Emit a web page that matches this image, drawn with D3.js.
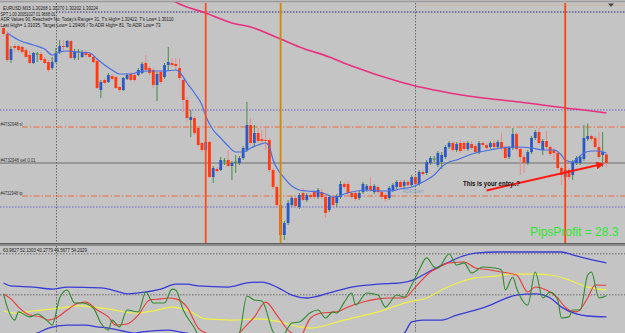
<!DOCTYPE html>
<html>
<head>
<meta charset="utf-8">
<script src="https://cdn.jsdelivr.net/npm/d3@7"></script>
<style>
body { margin: 0; background: #c4c4c4; }
svg { display: block; }
text { font-family: "Liberation Sans", Arial, sans-serif; }
</style>
</head>
<body>
<div class="chart"></div>
<script>
// EURUSD M15 candles, one entry per bar (bar 0 = left edge)
const opens = [1.30900,1.30870,1.30740,1.30810,1.30810,1.30805,1.30790,1.30765,1.30725,1.30770,
1.30770,1.30745,1.30730,1.30700,1.30730,1.30780,1.30810,1.30805,1.30835,1.30750,
1.30780,1.30755,1.30780,1.30770,1.30755,1.30735,1.30590,1.30640,1.30630,1.30660,
1.30655,1.30605,1.30590,1.30645,1.30670,1.30665,1.30665,1.30675,1.30725,1.30700,
1.30690,1.30615,1.30680,1.30655,1.30715,1.30725,1.30720,1.30700,1.30640,1.30540,
1.30440,1.30450,1.30400,1.30325,1.30290,1.30330,1.30155,1.30195,1.30190,1.30235,
1.30240,1.30210,1.30230,1.30225,1.30250,1.30290,1.30415,1.30325,1.30375,1.30345,
1.30340,1.30340,1.30190,1.30105,1.30015,1.29865,1.29925,1.30015,1.30050,1.30005,
1.30075,1.30040,1.30065,1.30080,1.30055,1.30080,1.30055,1.29990,1.30055,1.30025,
1.30055,1.30120,1.30120,1.30075,1.30075,1.30050,1.30080,1.30090,1.30110,1.30080,
1.30105,1.30080,1.30065,1.30050,1.30090,1.30105,1.30130,1.30110,1.30130,1.30115,
1.30155,1.30120,1.30180,1.30175,1.30225,1.30245,1.30215,1.30230,1.30255,1.30305,
1.30325,1.30290,1.30325,1.30325,1.30295,1.30320,1.30310,1.30280,1.30325,1.30315,
1.30305,1.30325,1.30305,1.30330,1.30300,1.30255,1.30300,1.30370,1.30295,1.30255,
1.30225,1.30280,1.30350,1.30380,1.30290,1.30335,1.30305,1.30290,1.30275,1.30200,
1.30155,1.30190,1.30165,1.30225,1.30225,1.30245,1.30345,1.30360,1.30350,1.30305,
1.30265,1.30268];
const highs = [1.30915,1.30885,1.30810,1.30820,1.30815,1.30810,1.30800,1.30785,1.30780,1.30780,
1.30780,1.30755,1.30740,1.30755,1.30800,1.30840,1.30840,1.30840,1.30840,1.30795,
1.30795,1.30790,1.30790,1.30780,1.30760,1.30745,1.30640,1.30650,1.30675,1.30670,
1.30660,1.30610,1.30655,1.30675,1.30680,1.30670,1.30700,1.30730,1.30765,1.30710,
1.30700,1.30680,1.30690,1.30725,1.30805,1.30750,1.30750,1.30750,1.30650,1.30555,
1.30490,1.30460,1.30410,1.30330,1.30340,1.30335,1.30210,1.30205,1.30255,1.30250,
1.30290,1.30235,1.30265,1.30260,1.30310,1.30530,1.30450,1.30415,1.30400,1.30390,
1.30410,1.30350,1.30200,1.30115,1.30025,1.29935,1.30040,1.30060,1.30060,1.30075,
1.30100,1.30075,1.30075,1.30090,1.30100,1.30095,1.30065,1.30065,1.30065,1.30070,
1.30135,1.30130,1.30135,1.30085,1.30085,1.30085,1.30130,1.30120,1.30155,1.30120,
1.30115,1.30090,1.30075,1.30110,1.30125,1.30140,1.30140,1.30140,1.30140,1.30165,
1.30165,1.30190,1.30190,1.30240,1.30260,1.30260,1.30285,1.30280,1.30315,1.30335,
1.30335,1.30330,1.30340,1.30335,1.30335,1.30335,1.30320,1.30335,1.30335,1.30325,
1.30335,1.30340,1.30340,1.30375,1.30310,1.30310,1.30400,1.30380,1.30305,1.30265,
1.30290,1.30360,1.30390,1.30400,1.30345,1.30385,1.30315,1.30300,1.30285,1.30210,
1.30200,1.30200,1.30240,1.30260,1.30265,1.30415,1.30422,1.30370,1.30360,1.30380,
1.30380,1.30270];
const lows = [1.30860,1.30730,1.30725,1.30780,1.30780,1.30770,1.30750,1.30720,1.30720,1.30730,
1.30735,1.30720,1.30680,1.30690,1.30725,1.30770,1.30780,1.30800,1.30745,1.30740,
1.30740,1.30750,1.30755,1.30750,1.30725,1.30595,1.30550,1.30620,1.30625,1.30640,
1.30595,1.30580,1.30585,1.30640,1.30635,1.30630,1.30660,1.30670,1.30685,1.30665,
1.30600,1.30535,1.30620,1.30645,1.30690,1.30705,1.30690,1.30640,1.30480,1.30430,
1.30355,1.30365,1.30310,1.30280,1.30275,1.30150,1.30125,1.30175,1.30185,1.30215,
1.30205,1.30140,1.30175,1.30215,1.30240,1.30280,1.30315,1.30305,1.30325,1.30325,
1.30290,1.30180,1.30095,1.30005,1.29850,1.29840,1.29915,1.30005,1.30000,1.29995,
1.30035,1.30030,1.30045,1.30045,1.30045,1.30045,1.29950,1.29980,1.30005,1.30005,
1.30045,1.30095,1.30065,1.30045,1.30035,1.30040,1.30070,1.30080,1.30080,1.30070,
1.30070,1.30045,1.30030,1.30040,1.30080,1.30095,1.30095,1.30100,1.30105,1.30105,
1.30110,1.30110,1.30160,1.30165,1.30215,1.30230,1.30205,1.30195,1.30245,1.30295,
1.30280,1.30280,1.30275,1.30285,1.30285,1.30290,1.30270,1.30270,1.30305,1.30290,
1.30295,1.30295,1.30295,1.30290,1.30240,1.30245,1.30290,1.30285,1.30165,1.30175,
1.30215,1.30270,1.30340,1.30315,1.30265,1.30295,1.30260,1.30240,1.30190,1.30115,
1.30140,1.30140,1.30140,1.30215,1.30215,1.30235,1.30335,1.30335,1.30295,1.30245,
1.30205,1.30202];
const closes = [1.30870,1.30740,1.30795,1.30800,1.30790,1.30780,1.30755,1.30725,1.30775,1.30770,
1.30740,1.30725,1.30690,1.30730,1.30775,1.30810,1.30805,1.30835,1.30750,1.30780,
1.30780,1.30780,1.30765,1.30755,1.30730,1.30600,1.30630,1.30625,1.30665,1.30645,
1.30600,1.30590,1.30650,1.30665,1.30640,1.30640,1.30690,1.30720,1.30690,1.30675,
1.30615,1.30670,1.30630,1.30715,1.30730,1.30715,1.30710,1.30650,1.30540,1.30450,
1.30455,1.30375,1.30315,1.30290,1.30330,1.30155,1.30200,1.30185,1.30240,1.30235,
1.30210,1.30225,1.30230,1.30250,1.30300,1.30415,1.30325,1.30375,1.30335,1.30335,
1.30335,1.30190,1.30105,1.30015,1.29865,1.29925,1.30025,1.30050,1.30010,1.30065,
1.30040,1.30065,1.30055,1.30055,1.30090,1.30055,1.29975,1.30055,1.30015,1.30060,
1.30120,1.30105,1.30075,1.30055,1.30045,1.30075,1.30120,1.30110,1.30090,1.30110,
1.30080,1.30055,1.30045,1.30100,1.30115,1.30130,1.30105,1.30130,1.30115,1.30155,
1.30120,1.30180,1.30170,1.30230,1.30250,1.30245,1.30275,1.30265,1.30305,1.30325,
1.30290,1.30320,1.30285,1.30295,1.30325,1.30300,1.30280,1.30325,1.30315,1.30300,
1.30325,1.30305,1.30330,1.30300,1.30250,1.30300,1.30370,1.30295,1.30255,1.30225,
1.30280,1.30350,1.30380,1.30325,1.30335,1.30305,1.30270,1.30275,1.30200,1.30165,
1.30190,1.30155,1.30230,1.30250,1.30255,1.30350,1.30360,1.30345,1.30305,1.30255,
1.30280,1.30224];

// moving averages (bar, price)
const emaBar = [1,4,8,11,13,15,17,20,23,25,27,29,31,34,36,39,43,46,47,49,51,53,54,56,58,60,62,64,66,68,70,71,72,73,75,77,79,81,84,86,88,89,91,93,97,101,103,106,109,112,115,117,119,121,123,126,130,133,137,141,144,147,149,150,152,153,155,157,159,161];
const emaVal = [1.30875,1.30840,1.30815,1.30795,1.30765,1.30780,1.30785,1.30780,1.30775,1.30745,1.30715,1.30690,1.30670,1.30670,1.30680,1.30685,1.30685,1.30690,1.30680,1.30625,1.30575,1.30515,1.30460,1.30390,1.30350,1.30310,1.30280,1.30280,1.30300,1.30315,1.30325,1.30305,1.30240,1.30200,1.30150,1.30110,1.30090,1.30085,1.30080,1.30070,1.30055,1.30055,1.30070,1.30080,1.30090,1.30085,1.30085,1.30095,1.30105,1.30130,1.30165,1.30205,1.30230,1.30240,1.30255,1.30275,1.30290,1.30300,1.30305,1.30300,1.30290,1.30290,1.30265,1.30240,1.30230,1.30245,1.30275,1.30285,1.30285,1.30275];
const smaBar = [44,47,54,61,66,74,79,87,93,106,110,115,124,133,142,150,155,161];
const smaVal = [1.31050,1.31020,1.30975,1.30925,1.30905,1.30845,1.30805,1.30755,1.30710,1.30630,1.30610,1.30590,1.30560,1.30540,1.30520,1.30500,1.30490,1.30475];

// price levels and objects
const dottedLevels = [1.30490, 1.30005];
const prevHigh = 1.30980;
const orderSL = 1.30405, orderOpen = 1.30225, orderTP = 1.30060;
const orderTicket = "#4732948";
const vLineBars = [54, 74, 150];
const vLineColors = ["#ff4d1f", "#c98a10", "#ff4012"];
const daySepBars = [14, 110];
const arrowFrom = [129, 1.30088], arrowTo = [160, 1.30220];

// TDI sub window (bar, value)
const upBar = [0,2,8,13,17,26,31,33,36,42,46,49,52,60,65,69,73,77,81,87,93,100,106,110,112,116,119,122,126,132,139,144,149,152,155,161];
const upVal = [55.2,53.9,53.4,52.5,53.4,53.0,51.2,50.4,50.8,52.5,54.7,54.7,53.9,53.4,55.2,55.6,53.4,49.9,48.6,50.8,53.4,54.7,55.2,56.9,58.7,62.2,64.4,66.6,68.3,68.8,68.8,68.8,68.8,67.5,66.2,63.98];
const lowBar = [0,5,9,12,17,22,25,28,33,35,37,44,47,49,55,70,85,95,103,107,109,112,117,121,126,130,133,137,142,146,149,153,156,161];
const lowVal = [30.5,31.5,33.2,35.4,36.7,36.7,35.9,35.4,33.7,33.2,33.7,34.5,33.7,33.2,30.0,28.0,27.0,28.0,31.0,33.2,38.1,38.9,38.9,41.1,43.3,45.5,47.7,49.9,50.4,48.6,44.6,41.6,40.7,40.28];
const baseBar = [0,3,8,13,17,20,24,28,35,40,45,49,54,61,68,74,79,82,91,100,108,113,117,122,126,132,135,142,146,151,156,161];
const baseVal = [42.9,42.0,42.9,43.8,44.6,45.1,44.6,43.8,42.0,42.9,44.6,43.3,39.4,38.9,39.4,38.1,35.9,35.4,38.9,42.5,46.8,48.6,52.1,55.6,57.4,58.3,59.1,59.1,58.7,56.5,53.4,52.13];
const sigBar = [0,2,4,7,10,12,14,17,20,22,25,28,30,33,36,39,42,44,46,49,52,54,58,62,63,67,70,73,76,77,79,82,85,89,92,96,100,103,107,110,114,116,119,123,126,130,133,137,140,142,145,148,150,153,156,158,161];
const sigVal = [50.4,48.2,44.6,41.1,40.3,38.9,39.8,43.3,46.4,46.8,43.3,40.3,36.7,37.2,41.1,47.7,48.2,48.6,48.2,44.6,35.4,33.2,30.5,31.0,33.2,40.3,46.8,41.1,34.5,33.2,31.5,39.8,42.0,42.5,44.6,46.8,48.2,48.6,48.6,53.4,60.0,61.8,64.0,64.4,61.8,60.9,60.0,58.7,51.2,53.4,52.1,48.6,44.6,42.5,48.6,54.3,54.2];
const rsiBar = [0,1,3,4,7,9,12,13,15,17,19,21,24,26,28,29,31,33,36,38,40,43,45,46,48,51,52,56,60,63,65,67,69,72,74,77,79,82,84,86,88,89,91,93,94,97,100,102,105,107,109,111,113,115,116,119,121,123,125,128,131,133,134,136,137,140,142,144,146,148,149,151,152,154,156,157,159,161];
const rsiVal = [50.4,44.6,38.9,42.5,40.3,41.6,38.1,36.7,48.6,52.1,46.4,46.4,44.2,37.6,34.5,38.9,35.9,43.3,42.5,51.2,46.4,46.4,52.5,52.1,43.3,35.4,32.4,28.0,29.0,33.2,49.5,47.7,47.3,33.7,31.0,37.6,38.1,42.2,43.3,39.8,42.5,42.0,46.8,50.8,45.5,50.8,49.9,44.6,49.9,49.0,54.3,60.9,66.2,62.2,61.8,67.9,63.1,64.0,59.6,62.2,61.8,60.9,52.1,57.8,53.0,45.5,60.0,48.6,51.2,47.7,39.8,40.3,43.3,43.3,58.7,60.0,48.6,49.57];
const tdiLevels = [68, 50];

const headerLines = [
  "EURUSD,M15  1.30268 1.30270 1.30202 1.30224",
  "SPT 1.00 20051027 01 9668 01",
  "ADR Values 90, Reached= No; Today's Range= 31, T's High= 1.30422, T's Low= 1.30110",
  "Last High= 1.31035, Target Low= 1.29406 / To ADR High= 81, To ADR Low= 73"
];
const tdiHeader = "63.9827 52.1303 40.2779 49.5677 54.2029";

const width = 625, height = 333;
const mainH = 243, subTop = 246;

const svg = d3.select(".chart").append("svg")
  .attr("width", width).attr("height", height);

svg.append("rect").attr("width", width).attr("height", height).attr("fill", "#c4c4c4");

const defs = svg.append("defs");
defs.append("clipPath").attr("id", "clipMain")
  .append("rect").attr("x", 0).attr("y", 2).attr("width", width).attr("height", mainH - 2);
defs.append("clipPath").attr("id", "clipSub")
  .append("rect").attr("x", 0).attr("y", subTop).attr("width", width).attr("height", height - subTop);
defs.append("marker").attr("id", "arrowHead")
  .attr("viewBox", "0 0 10 10").attr("refX", 8).attr("refY", 5)
  .attr("markerWidth", 4).attr("markerHeight", 4).attr("orient", "auto")
  .append("path").attr("d", "M0,0L10,5L0,10z").attr("fill", "#ff1a10");

const xScale = d3.scaleLinear().domain([0, 161]).range([3.5, 606.4]);
const yScale = d3.scaleLinear().domain([1.29825, 1.31040]).range([mainH, 0]);
const tdiScale = d3.scaleLinear().domain([32, 68]).range([335.8, 253.8]);

const main = svg.append("g").attr("clip-path", "url(#clipMain)");
const sub = svg.append("g").attr("clip-path", "url(#clipSub)");

// day separators
[main, sub].forEach(g => {
  g.selectAll(".daysep").data(daySepBars).enter().append("line")
    .attr("x1", d => Math.round(xScale(d)) + 0.5).attr("x2", d => Math.round(xScale(d)) + 0.5)
    .attr("y1", 0).attr("y2", height)
    .attr("stroke", "#6a6a6a").attr("stroke-width", 1).attr("stroke-dasharray", "1.5,1.5");
});

// horizontal levels
main.append("line")
  .attr("x1", xScale(daySepBars[0])).attr("x2", width)
  .attr("y1", yScale(prevHigh)).attr("y2", yScale(prevHigh))
  .attr("stroke", "#2a2a78").attr("stroke-width", 1).attr("stroke-dasharray", "1.5,1.5");
main.selectAll(".dlev").data(dottedLevels).enter().append("line")
  .attr("x1", 0).attr("x2", width)
  .attr("y1", d => yScale(d)).attr("y2", d => yScale(d))
  .attr("stroke", "#6a62c8").attr("stroke-width", 1.2).attr("stroke-dasharray", "1.5,1.5");
main.selectAll(".olev").data([orderSL, orderTP]).enter().append("line")
  .attr("x1", 22).attr("x2", width)
  .attr("y1", d => yScale(d)).attr("y2", d => yScale(d))
  .attr("stroke", "#ee6a40").attr("stroke-width", 1).attr("stroke-dasharray", "6,2,1.5,2");
main.append("line")
  .attr("x1", 0).attr("x2", width)
  .attr("y1", yScale(orderOpen)).attr("y2", yScale(orderOpen))
  .attr("stroke", "#6c6c6c").attr("stroke-width", 1);

// order labels
const orderLabels = [[orderSL, orderTicket + " sl", 22], [orderOpen, orderTicket + " sell 0.01", 35], [orderTP, orderTicket + " tp", 22]];
main.selectAll(".olab").data(orderLabels).enter().append("text")
  .attr("x", 0.5).attr("y", d => yScale(d[0]) - 1.5)
  .attr("font-size", 5).attr("fill", "#333")
  .attr("textLength", d => d[2]).attr("lengthAdjust", "spacingAndGlyphs")
  .text(d => d[1]);

// pink slow MA
const maLine = d3.line().x(d => xScale(d[0])).y(d => yScale(d[1])).curve(d3.curveMonotoneX);
main.append("path").datum(d3.zip(smaBar, smaVal))
  .attr("d", maLine).attr("fill", "none").attr("stroke", "#e8307e").attr("stroke-width", 1.6);

// candles
const bars = d3.range(opens.length);
const candles = main.append("g");
candles.selectAll(".wick").data(bars).enter().append("line")
  .attr("x1", i => xScale(i)).attr("x2", i => xScale(i))
  .attr("y1", i => yScale(highs[i])).attr("y2", i => yScale(lows[i]))
  .attr("stroke", i => closes[i] >= opens[i] ? "#4a8c4a" : "#e58c8c")
  .attr("stroke-width", 1);
candles.selectAll(".body").data(bars.filter(i => closes[i] !== opens[i])).enter().append("rect")
  .attr("x", i => xScale(i) - 1.4).attr("width", 2.8)
  .attr("y", i => yScale(Math.max(opens[i], closes[i])))
  .attr("height", i => Math.max(1, Math.abs(yScale(opens[i]) - yScale(closes[i]))))
  .attr("fill", i => closes[i] > opens[i] ? "#2c5ac4" : "#ff3a12");
candles.selectAll(".doji").data(bars.filter(i => closes[i] === opens[i])).enter().append("line")
  .attr("x1", i => xScale(i) - 1.6).attr("x2", i => xScale(i) + 1.6)
  .attr("y1", i => yScale(opens[i])).attr("y2", i => yScale(opens[i]))
  .attr("stroke", "#3f8a3f").attr("stroke-width", 1);

// blue fast MA
main.append("path").datum(d3.zip(emaBar, emaVal))
  .attr("d", maLine).attr("fill", "none").attr("stroke", "#4a6ee0").attr("stroke-width", 1.2);

// vertical lines
main.selectAll(".vline").data(vLineBars).enter().append("line")
  .attr("x1", d => xScale(d)).attr("x2", d => xScale(d))
  .attr("y1", 3).attr("y2", mainH)
  .attr("stroke", (d, i) => vLineColors[i]).attr("stroke-width", 1.8);

// top tick line & marker
main.append("line").attr("x1", xScale(daySepBars[1])).attr("x2", width)
  .attr("y1", 5).attr("y2", 5)
  .attr("stroke", "#d4a478").attr("stroke-width", 1).attr("stroke-dasharray", "1,1");
main.append("path").attr("d", "M608,3.5L614,3.5L611,7z").attr("fill", "#444");

// entry arrow + notes
main.append("line")
  .attr("x1", xScale(arrowFrom[0])).attr("y1", yScale(arrowFrom[1]))
  .attr("x2", xScale(arrowTo[0])).attr("y2", yScale(arrowTo[1]))
  .attr("stroke", "#ff1a10").attr("stroke-width", 2).attr("marker-end", "url(#arrowHead)");
main.append("text").attr("x", 463).attr("y", 186)
  .attr("font-size", 6.5).attr("fill", "#111").attr("font-weight", "bold")
  .attr("textLength", 57).attr("lengthAdjust", "spacingAndGlyphs")
  .text("This is your entry..?");
main.append("text").attr("x", xScale(daySepBars[1]) - 13).attr("y", 192.5)
  .attr("font-size", 5.5).attr("fill", "#8aa2bc")
  .attr("textLength", 21).attr("lengthAdjust", "spacingAndGlyphs")
  .text("ADRStart");
svg.append("text").attr("x", 530).attr("y", 236)
  .attr("font-size", 12).attr("fill", "#2ee82e")
  .text("PipsProfit = 28.3");

// header
const headerX = [3, 0.5, 0.5, 0.5];
const headerLen = [95, 55, 173, 160];
const headerY = [9.5, 15.5, 21.2, 27];
svg.selectAll(".hdr").data(headerLines).enter().append("text")
  .attr("x", (d, i) => headerX[i]).attr("y", (d, i) => headerY[i])
  .attr("font-size", 5.2).attr("fill", "#1a1a1a")
  .attr("textLength", (d, i) => headerLen[i]).attr("lengthAdjust", "spacingAndGlyphs")
  .text(d => d);

// borders
svg.append("line").attr("x1", 0).attr("x2", width).attr("y1", 1.5).attr("y2", 1.5)
  .attr("stroke", "#9a9a9a").attr("stroke-width", 1.5);
svg.append("rect").attr("x", 0).attr("y", mainH).attr("width", width).attr("height", subTop - mainH)
  .attr("fill", "#8a8a8a");
svg.append("line").attr("x1", 0).attr("x2", width).attr("y1", mainH + 0.5).attr("y2", mainH + 0.5)
  .attr("stroke", "#606060");

// TDI levels
sub.selectAll(".tlev").data(tdiLevels).enter().append("line")
  .attr("x1", 0).attr("x2", width)
  .attr("y1", d => tdiScale(d)).attr("y2", d => tdiScale(d))
  .attr("stroke", "#6a6a6a").attr("stroke-width", 1).attr("stroke-dasharray", "1.5,1.5");

const tdiLine = d3.line().x(d => xScale(d[0])).y(d => tdiScale(d[1])).curve(d3.curveMonotoneX);
const tdiSeries = [
  [upBar, upVal, "#3a3ad6", 1.3],
  [lowBar, lowVal, "#3a3ad6", 1.3],
  [baseBar, baseVal, "#f2f244", 1.2],
  [sigBar, sigVal, "#e83c3c", 1.1],
  [rsiBar, rsiVal, "#2f8a2f", 1.1]
];
sub.selectAll(".tdi").data(tdiSeries).enter().append("path")
  .attr("d", d => tdiLine(d3.zip(d[0], d[1])))
  .attr("fill", "none").attr("stroke", d => d[2]).attr("stroke-width", d => d[3]);

svg.append("text").attr("x", 3).attr("y", 251.5)
  .attr("font-size", 5).attr("fill", "#1a1a1a")
  .attr("textLength", 84).attr("lengthAdjust", "spacingAndGlyphs")
  .text(tdiHeader);
</script>
</body>
</html>
